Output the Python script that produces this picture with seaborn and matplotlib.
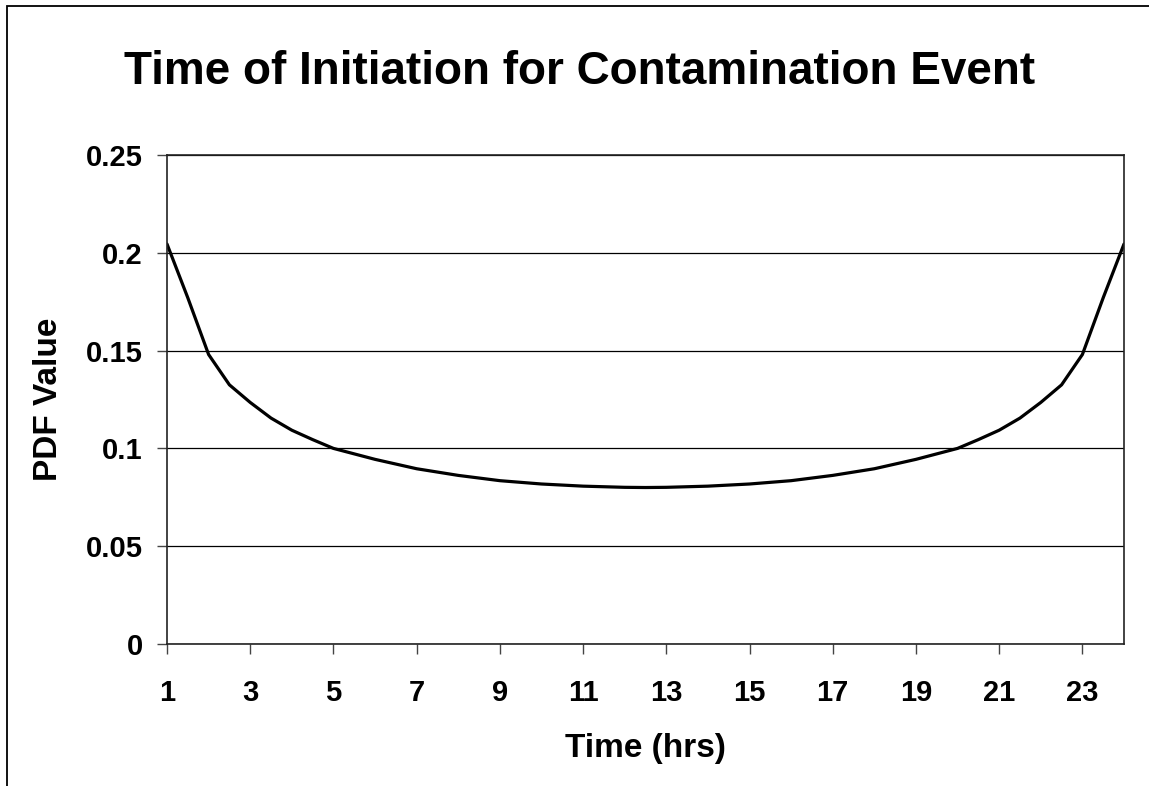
import numpy as np
import pandas as pd
import matplotlib
matplotlib.use('Agg')
import matplotlib.pyplot as plt
import seaborn as sns
from matplotlib.patches import Rectangle

# Data
hours = [1, 1.5, 2, 2.5, 3, 3.5, 4, 4.5, 5, 6, 7, 8, 9, 10, 11, 12, 12.5,
         13, 14, 15, 16, 17, 18, 19, 20, 20.5, 21, 21.5, 22, 22.5, 23, 23.5, 24]
pdf_values = [0.2045, 0.177, 0.148, 0.1325, 0.1235, 0.1155, 0.1093, 0.1045, 0.100,
              0.0944, 0.0896, 0.0862, 0.0835, 0.0818, 0.0807, 0.0801, 0.0800,
              0.0801, 0.0807, 0.0818, 0.0835, 0.0862, 0.0896, 0.0944, 0.100,
              0.1045, 0.1093, 0.1155, 0.1235, 0.1325, 0.148, 0.177, 0.2045]
x_ticks = [1, 3, 5, 7, 9, 11, 13, 15, 17, 19, 21, 23]
y_ticks = [0, 0.05, 0.1, 0.15, 0.2, 0.25]
y_tick_labels = ["0", "0.05", "0.1", "0.15", "0.2", "0.25"]

df = pd.DataFrame({"Time": hours, "PDF": pdf_values})

sns.set_style("white")
plt.rcParams['font.family'] = ['Liberation Sans', 'DejaVu Sans']
plt.rcParams['font.weight'] = 'bold'
plt.rcParams['text.color'] = 'black'
plt.rcParams['axes.labelcolor'] = 'black'
plt.rcParams['xtick.color'] = 'black'
plt.rcParams['ytick.color'] = 'black'

W, H = 1149, 786
fig = plt.figure(figsize=(W / 100, H / 100), dpi=100)
ax = fig.add_axes([167 / W, 1 - 644 / H, (1124 - 167) / W, (644 - 155) / H])

# outer chart border (cropped on right and bottom in the reference)
fig.patches.append(Rectangle((7 / W, -0.1), 1.2, 1 - 6 / H + 0.1,
                             transform=fig.transFigure, fill=False,
                             edgecolor='black', linewidth=1.3))

sns.lineplot(data=df, x="Time", y="PDF", ax=ax, color='black', linewidth=2.3)

ax.set_xlim(1, 24)
ax.set_ylim(0, 0.25)
ax.set_xticks(x_ticks)
ax.set_xticklabels([str(t) for t in x_ticks], fontsize=21, fontweight='bold')
ax.set_yticks(y_ticks)
ax.set_yticklabels(y_tick_labels, fontsize=21, fontweight='bold')
ax.yaxis.grid(True, color='black', linewidth=0.9)
ax.set_axisbelow(True)
ax.tick_params(axis='both', direction='out', length=7.5, width=1, color='#444444',
               labelcolor='black', bottom=True, left=True)
ax.tick_params(axis='x', pad=18)
ax.tick_params(axis='y', pad=10)
for s in ax.spines.values():
    s.set_color('#222222')
    s.set_linewidth(1.2)

ax.set_xlabel("Time (hrs)", fontsize=24, fontweight='bold')
ax.set_ylabel("PDF Value", fontsize=24, fontweight='bold')
ax.xaxis.set_label_coords(0.5, (644 - 748) / (644 - 155))
ax.xaxis.label.set_va('center')
ax.yaxis.set_label_coords((48 - 167) / (1124 - 167), 0.5)
ax.yaxis.label.set_va('center')

fig.text(580 / W, 1 - 84 / H, "Time of Initiation for Contamination Event",
         ha='center', va='baseline', fontsize=33, fontweight='bold')

plt.savefig("out.png", dpi=100)
plt.close()
